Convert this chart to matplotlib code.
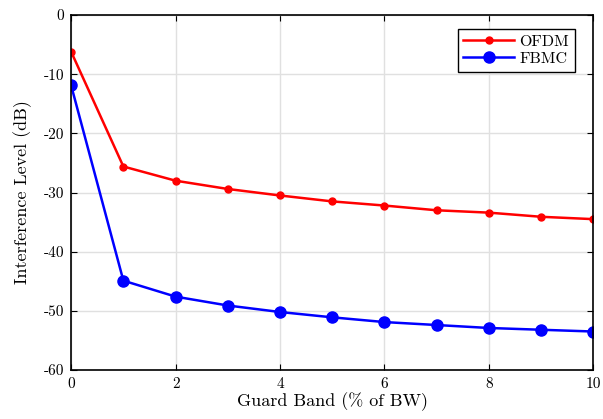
import matplotlib
matplotlib.use("Agg")
import matplotlib.pyplot as plt

# guard band as % of bandwidth
guard_band = [0, 1, 2, 3, 4, 5, 6, 7, 8, 9, 10]
ofdm = [-6.2, -25.6, -28.0, -29.4, -30.5, -31.5, -32.2, -33.0, -33.4, -34.1, -34.5]
fbmc = [-11.9, -44.9, -47.6, -49.1, -50.2, -51.1, -51.9, -52.4, -52.9, -53.2, -53.5]

x_ticks = [0, 2, 4, 6, 8, 10]
y_ticks = [-60, -50, -40, -30, -20, -10, 0]

plt.rcParams["font.family"] = ["cmr10", "DejaVu Serif"]
plt.rcParams["axes.unicode_minus"] = False
plt.rcParams["mathtext.fontset"] = "cm"

fig = plt.figure(figsize=(6.03, 4.19), dpi=100)
ax = fig.add_axes([0.118, 0.117, 0.866, 0.847])

ax.plot(guard_band, ofdm, "-o", color="red", linewidth=1.8, markersize=5, label="OFDM")
ax.plot(guard_band, fbmc, "-o", color="blue", linewidth=1.8, markersize=8, label="FBMC")

ax.set_xlim(0, 10)
ax.set_ylim(-60, 0)
ax.set_xticks(x_ticks)
ax.set_yticks(y_ticks)
ax.grid(True, color="#e0e0e0", linewidth=1)
ax.set_axisbelow(True)
ax.tick_params(direction="in", top=True, right=True, labelsize=11, length=4, pad=5)
for s in ax.spines.values():
    s.set_linewidth(1.2)

ax.set_xlabel("Guard Band (% of BW)", fontsize=13, labelpad=1)
ax.set_ylabel("Interference Level (dB)", fontsize=13, labelpad=8)

leg = ax.legend(loc="upper right", bbox_to_anchor=(0.964, 0.961), fontsize=11.5,
                fancybox=False, framealpha=1, edgecolor="black", handlelength=3.2,
                borderaxespad=0, labelspacing=0.2, borderpad=0.35, handletextpad=0.3)
leg.get_frame().set_linewidth(1.0)

fig.savefig("out.png", dpi=100)
